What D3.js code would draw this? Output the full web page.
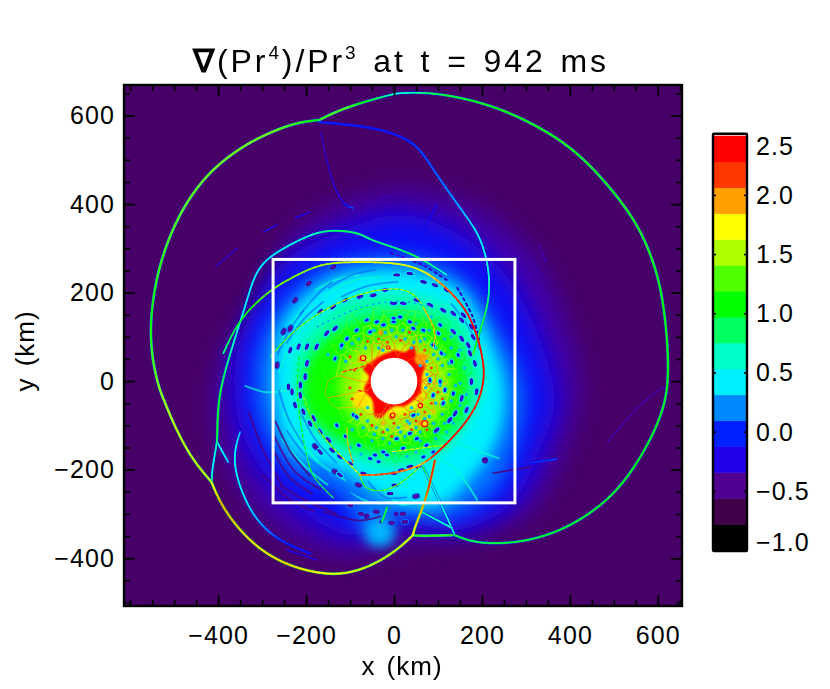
<!DOCTYPE html>
<html><head><meta charset="utf-8">
<script src="https://cdn.jsdelivr.net/npm/d3@7/dist/d3.min.js"></script>
<style>html,body{margin:0;padding:0;background:#fff}svg{display:block}text{font-family:"Liberation Sans",Arial,sans-serif;fill:#000}</style>
</head><body><svg id="c" width="830" height="689"></svg>
<script>
// ---------- tick labels and colour bar ----------
const xTicks=[-400,-200,0,200,400,600];
const yTicks=[-400,-200,0,200,400,600];
const barTicks=[-1,-0.5,0,0.5,1,1.5,2,2.5];
const barColors=["#000000","#40004a","#500090","#2000e8","#0020ff","#0088ff","#00f0ff","#00ffc8","#00ff60","#00ff00","#50ff00","#b0ff00","#ffff00","#ffa000","#ff3800","#ff0000"];
const backgroundValue=-0.58;
const boxHalf=275, holeRadius=53;

// ---------- smooth field: level polygons, km ----------
const fieldLevels=[
 {v:-0.38,b:13,p:[[-281,183],[-236,319],[-123,398],[14,432],[172,398],[309,296],[388,138],[422,-20],[388,-156],[309,-292],[195,-348],[59,-359],[-123,-393],[-259,-337],[-361,-224],[-406,-88],[-384,70]]},
 {v:-0.12,b:11,p:[[-350,93],[-259,262],[-123,337],[14,375],[150,330],[263,228],[331,93],[365,-43],[331,-156],[263,-280],[138,-337],[14,-314],[-100,-348],[-236,-269],[-327,-156],[-361,-43]]},
 {v:0.15,b:9,p:[[-281,138],[-168,251],[14,285],[150,240],[241,115],[297,-20],[275,-156],[218,-258],[104,-314],[14,-303],[-54,-348],[-123,-258],[-236,-201],[-304,-88],[-316,25]]},
 {v:0.42,b:7,p:[[-247,138],[-145,228],[14,251],[150,206],[218,93],[252,-20],[234,-133],[172,-224],[104,-280],[-9,-269],[-123,-201],[-236,-156],[-270,-43],[-270,47]]},
 {v:0.72,b:6,p:[[-205,93],[-118,175],[14,196],[127,165],[184,81],[202,2],[172,-88],[104,-167],[14,-196],[-100,-170],[-185,-105],[-225,-20]]},
 {v:1.1,b:6,p:[[-191,47],[-100,130],[14,150],[116,120],[161,25],[150,-77],[70,-150],[-32,-160],[-134,-125],[-202,-54]]},
 {v:1.45,b:6,p:[[-100,59],[2,104],[93,70],[127,-9],[93,-88],[2,-122],[-89,-88],[-123,-20]]},
 {v:1.75,b:4,p:[[-70,15],[-40,60],[10,75],[55,60],[75,10],[65,-45],[20,-75],[-45,-75],[-78,-40]]},
 {v:2.45,b:1,p:[[0,70],[25,66],[45,80],[52,58],[70,42],[64,10],[60,-25],[46,-42],[25,-56],[0,-58],[-15,-68],[-28,-82],[-42,-82],[-50,-42],[-68,-20],[-57,10],[-70,28],[-48,46],[-30,58],[-10,66]]}
];
// warm blobs and rimmed cells near the core [x,y,r,v]
const warmBlobs=[[-77,-43,18,1.8],[62,50,15,1.95],[-30,110,6,2.0],[-75,50,7,2.0],[60,-95,7,2.0],[-5,-80,6,2.3],[60,-40,7,1.9],[-25,-95,5,2.0],[30,-105,5,1.9],[90,-70,5,1.9],[88,0,5,1.8]];
const ringCells=[[-70,52,6],[-13,76,4],[-3,-77,5],[70,-96,7],[60,-55,5]];
// ---------- fine curves: x, y (km), value ----------
const shockTop=[[-170,590,1.25],[-111,619,1.3],[-2,649,0.7],[14,651,0.55],[89,653,0.9],[202,630,1.1],[293,594,1.15],[393,538,1.15],[468,466,1.15],[536,382,1.15],[574,314,1.15],[608,217,1.1],[622,93,1.1],[624,25,1.1],[620,-43,1.05],[588,-127,1.05],[529,-224,1.05],[468,-285,1.0],[393,-332,1.0],[316,-359,0.95],[241,-368,0.95],[179,-364,0.9],[138,-348,1.0]];
const shockLeft=[[-170,590,1.0],[-220,585,1.2],[-288,560,1.4],[-350,527,1.4],[-411,481,1.4],[-463,420,1.35],[-508,337,1.3],[-538,246,1.2],[-552,160,1.1],[-554,93,1.15],[-546,30,1.3],[-533,-20,1.45],[-520,-50,1.5],[-502,-95,1.6],[-463,-172,1.6],[-415,-228,1.6]];
const shockLow=[[-415,-228,1.6],[-395,-276,1.95],[-356,-332,1.85],[-304,-382,1.8],[-243,-416,1.85],[-168,-436,1.75],[-107,-436,1.65],[-48,-416,1.6],[7,-382,1.6],[43,-348,1.75]];
const link1=[[43,-348,1.75],[48,-328,1.8],[66,-285,1.9],[82,-231,2.2],[93,-179,2.3]];
const link2=[[43,-348,1.2],[59,-350,1.2],[134,-348,1.2]];
const link3=[[138,-348,0.6],[132,-332,0.55],[89,-240,0.55],[66,-194,0.9]];
const link4=[[64,-296,0.7],[132,-332,0.55]];
const blueArc=[[-170,585,0.0],[-61,576,-0.05],[14,556,-0.05],[59,527,0.05],[89,477,0.1],[157,382,0.3],[195,330,0.45],[213,269,0.5],[218,217,0.65],[213,167,0.85],[191,99,1.0],[180,60,1.2]];
const midArc=[[-415,-228,0.8],[-413,-194,0.5],[-402,-138,0.7],[-402,-118,1.0],[-400,-43,1.0],[-384,25,0.85],[-356,115,0.6],[-334,183,0.45],[-311,262,0.45],[-252,301,0.5],[-175,339,0.7],[-123,341,0.9],[-77,334,0.85],[-54,319,0.8],[-2,303,0.8],[59,280,0.9],[120,240,0.6]];
const midBranch=[[-402,-138,0.6],[-377,-183,0.35]];
const fourthArc=[[-350,-115,0.3],[-368,-172,0.5],[-350,-246,0.5],[-311,-321,0.3],[-252,-366,0.0],[-191,-389,-0.1]];
const faintA=[[-243,-382,-0.2],[-175,-404,-0.25]];
const faintB=[[-166,563,-0.3],[-157,515,-0.32],[-152,495,-0.3],[-138,443,-0.25],[-116,398,-0.2],[-93,391,0.1]];
const faintC=[[-297,337,-0.15],[-266,353,-0.2]];
const faintD=[[-225,368,-0.2],[-191,382,-0.25]];
const faintE=[[-406,258,-0.35],[-356,301,-0.3]];
const faintF=[[620,-10,-0.42],[565,-43,-0.38],[486,-138,-0.38]];
const faintG=[[97,400,-0.2],[55,310,-0.15]];
const faintH=[[330,308,-0.38],[345,270,-0.36]];
const faintI=[[310,270,-0.38],[332,240,-0.36]];
const faintJ=[[-60,400,-0.38],[-10,420,-0.38]];
const streakBlue=[[309,-185,0.0],[370,-176,0.05]];
const streakDark=[[225,-208,-0.5],[309,-194,-0.5]];
const shockA=[[-388,63,0.8],[-350,145,1.0],[-281,206,1.4],[-243,228,1.4],[-168,267,1.5],[-93,269,1.7],[-16,269,1.7],[59,258,1.65],[120,212,2.1],[166,160,2.4],[188,108,2.4],[202,54,2.45],[207,2,2.45],[188,-59,2.3],[150,-111,2.45],[98,-163,2.45],[59,-194,1.9],[-16,-212,2.2],[-77,-212,2.1]];
const ringB=[[-281,55,1.4],[-236,108,1.4],[-168,157,1.55],[-85,198,1.6],[14,215,1.6],[59,190,1.55],[89,122,1.5],[98,86,1.6]];
const ringB2=[[-175,123,0.6],[-85,168,0.65],[14,187,0.6],[90,165,0.7]];
const ringB3=[[-130,55,1.3],[-85,78,1.4],[-24,93,1.5]];
const ringL=[[-207,-32,1.5],[-184,-99,1.4],[-145,-145,1.5],[-77,-212,1.8]];
const ringM=[[-215,60,1.0],[-225,-30,1.1],[-197,-183,1.05],[-184,-219,1.1],[-138,-264,1.05]];
const ringN=[[-77,-212,1.5],[-70,-240,1.25],[-39,-251,1.35],[7,-240,1.4],[59,-194,1.5]];
const lineP=[[-107,-104,1.9],[-107,-140,1.9],[-93,-185,2.1]];
const lineQ=[[66,167,1.9],[98,115,2.0],[89,77,2.0]];
const lineR=[[-9,-160,1.7],[66,-151,1.7],[111,-145,1.6]];
const lineS=[[-120,20,2.3],[-80,30,2.3],[-55,38,2.35]];
const lineT=[[-85,-20,2.3],[-60,-25,2.3]];
const lobeStrand=[[-16,-286,1.0],[-27,-318,0.9]];
const outerCurves=[faintA,faintB,faintC,faintD,faintE,faintF,faintG,faintH,faintI,faintJ,streakDark,streakBlue,fourthArc,midBranch,midArc,blueArc,link2,link3,link4,shockTop,shockLeft,shockLow,link1,lobeStrand];
const innerCurves=[ringM,ringL,ringN,ringB,ringB2,ringB3,lineP,lineQ,lineR,lineS,lineT];

// ---------- bright streaks and dark bands inside the blue region ----------
const brightStreaks=[
 [[-250,60],[-210,100],[-170,150]],[[-230,40],[-190,110],[-130,170]],[[-180,205],[-130,230],[-80,240]],[[-160,190],[-100,225],[-30,235]],[[-255,90],[-225,140],[-190,180]],[[-262,20],[-240,70],[-205,125]],
 [[-340,-10],[-290,-25],[-240,-20]],[[-255,-130],[-205,-190],[-150,-235]],[[-235,-100],[-180,-175],[-110,-225]],[[-100,-250],[-50,-275],[10,-270]],[[-30,-240],[20,-280],[60,-260]],[[-250,-70],[-215,-130],[-170,-185]],
 [[100,-120],[170,-150],[240,-175]],[[60,-150],[140,-200],[190,-270]]];
const blueStreaks=[
 [[-265,60],[-235,120],[-205,160]],[[-245,85],[-205,140],[-160,180]],[[-150,210],[-95,240],[-40,252]],[[-120,190],[-60,215],[10,225]],[[-215,150],[-175,195],[-140,225]],
 [[-262,-20],[-240,-85],[-205,-145]],[[-245,-110],[-200,-170],[-150,-210]],[[-215,-65],[-180,-130],[-130,-185]],[[-170,-200],[-120,-240],[-70,-262]],[[-60,-225],[-20,-262],[30,-262]],
 [[130,175],[165,130],[195,70]]];
const darkArcs=[
 [[-272,-160],[-240,-215],[-185,-255]],[[-272,-125],[-225,-205],[-165,-245]],[[-260,-235],[-200,-270],[-130,-300]],[[-160,-295],[-80,-315],[-30,-305]],[[-330,-70],[-300,-150],[-255,-235]],[[-270,-90],[-235,-160],[-190,-215]],[[-300,-210],[-240,-265],[-180,-295]]];
const darkRings=[
 [[143,212],[179,145],[195,86]],
 [[-9,290],[66,262],[125,225]]
];
// dark cells [x,y]
const cellsOuter=[[-194,221],[-225,183],[-251,112],[-236,119],[-266,36],[-138,258],[-179,-148],[-134,-205],[-81,-235],[-40,-295],[20,-300],[50,-260],[-100,-280],[-75,-300],[-5,-320],[25,-318]];
const cellsMid=[[-168,157],[-138,168],[-111,183],[-77,191],[-47,194],[-20,206],[-134,119],[-198,78],[-217,78],[-236,70],[6,240],[36,243],[67,224],[93,217],[120,206],[-1,176],[21,176],[52,183],[82,172],[112,160],[135,153],[154,138],[135,112],[154,96],[169,81],[173,63],[184,40],[158,149],[180,100],[176,123],[-232,-24],[-225,-54],[-206,-69],[-191,-96],[-168,-160],[-123,-212],[-123,-171],[-100,-186],[-240,-13],[-213,-9],[-213,-32],[-183,-84],[-168,-114],[-149,-133],[-141,-156],[-69,-209],[176,-1],[188,-24],[165,-65],[139,-73],[127,-88],[97,-111],[154,-39],[55,-193],[36,-193],[17,-201],[-1,-208],[2,-235],[-9,-254],[-202,10],[-198,40],[-176,78],[-153,108]];
const cellsInner=[[-62,138],[-39,134],[-85,115],[-107,96],[-119,81],[-134,51],[-54,111],[-24,127],[-1,134],[14,145],[-1,142],[44,119],[67,115],[36,134],[105,127],[89,81],[108,63],[131,44],[146,59],[101,108],[-54,-175],[-35,-182],[-16,-167],[-92,-77],[-85,-81],[-43,-167],[-24,-160],[135,-28],[105,-1],[82,2],[116,-20],[89,-32],[112,-50],[44,-77],[36,-118],[6,-130],[52,-130],[74,-145],[21,-152],[89,-160],[67,-171],[-130,-100],[-110,-125],[-80,-145]];
const speckCyan=[[-150,60],[-120,75],[-110,45],[-95,85],[-80,95],[-65,75],[-45,115],[-25,70],[5,100],[25,95],[45,88],[70,95],[90,60],[110,35],[125,15],[105,-10],[75,15],[72,-15],[95,-50],[80,-80],[55,-75],[35,-95],[10,-105],[-15,-110],[-40,-105],[-60,-90],[-85,-85],[115,-95],[60,-115],[25,-125],[-10,-140],[-50,-135],[-95,-110],[140,-10],[125,40],[40,-60],[-35,75],[-60,-60],
 [60,35],[75,45],[100,50],[115,60],[130,75],[95,75],[60,90],[80,115],[115,95],[40,75],[20,115],[-5,115],[-20,110],[50,130],[85,145],[130,100],[150,70],[160,30],[150,-5],[165,-30],[150,-55],[130,-45],[110,-75],[90,-95],[70,-85],[50,-105],[30,-90],[15,-115],[0,-160],[30,-170],[50,-160],[-25,-130],[-45,-120],[-70,-105],[-75,-165],[-100,-150],[60,-135],[95,-130],[120,-115],[135,-95],[140,-70]];
const speckWarm=[[-35,95],[-15,88],[15,92],[35,110],[70,70],[85,30],[80,-5],[60,-25],[100,-25],[85,-50],[70,-70],[50,-90],[25,-75],[0,-95],[-25,-115],[-50,-100],[-75,-75],[-95,-40],[-100,-15],[-90,25],[-100,55],[-60,90],[110,-40],[75,-110],[40,-110],[-5,-125]];
const spotDark=[[207,-179,7],[-62,-305,6],[5,-300,5],[-30,-318,3]];
const lobeGlow=[[-32,-341,34,0.3]];

// ---------- scales ----------
const W=830,H=689,L=124,R=682,T=85,B=606,CL=713,CR=747,CT=135.7,CB=550;
const x=d3.scaleLinear().domain([-614,655]).range([L,R]);
const y=d3.scaleLinear().domain([-508,669]).range([B,T]);
const bandCentres=barColors.map((_,i)=>-1+3.5*(i+0.5)/16);
const color=d3.scaleLinear().domain(bandCentres).range(barColors).clamp(true);
const barY=d3.scaleLinear().domain([-1,2.5]).range([CB,CT]);
const wallValue=d3.scaleLinear().domain([55,105,150,195]).range([2.3,1.95,1.2,0.55]).clamp(true);
const svg=d3.select("#c");
const defs=svg.append("defs");
defs.append("clipPath").attr("id","plot").append("rect").attr("x",L).attr("y",T).attr("width",R-L).attr("height",B-T);
[1,4,6,7,9,11,13].forEach(b=>defs.append("filter").attr("id","b"+b).attr("x","-30%").attr("y","-30%").attr("width","160%").attr("height","160%").append("feGaussianBlur").attr("stdDeviation",b));
defs.append("filter").attr("id","soft").append("feGaussianBlur").attr("stdDeviation",0.6);
defs.append("filter").attr("id","soft2").append("feGaussianBlur").attr("stdDeviation",1.2);

const g=svg.append("g").attr("clip-path","url(#plot)");
g.append("rect").attr("x",L).attr("y",T).attr("width",R-L).attr("height",B-T).attr("fill",color(backgroundValue));
const closed=d3.line().x(d=>x(d[0])).y(d=>y(d[1])).curve(d3.curveCatmullRomClosed);
const open=d3.line().x(d=>x(d[0])).y(d=>y(d[1])).curve(d3.curveCatmullRom);
const smooth=d3.line().x(d=>x(d[0])).y(d=>y(d[1])).curve(d3.curveBasis);
fieldLevels.forEach(l=>g.append("path").attr("d",closed(l.p)).attr("fill",color(l.v)).attr("filter",`url(#b${l.b})`));
g.selectAll("circle.l").data(lobeGlow).join("circle").attr("class","l").attr("cx",d=>x(d[0])).attr("cy",d=>y(d[1])).attr("r",d=>x(d[2])-x(0)).attr("fill",d=>color(d[3])).attr("filter","url(#b6)");

const blobs=g.append("g").attr("filter","url(#soft2)");
blobs.selectAll("circle.w").data(warmBlobs).join("circle").attr("cx",d=>x(d[0])).attr("cy",d=>y(d[1])).attr("r",d=>x(d[2])-x(0)).attr("fill",d=>color(d[3]));

const bands=g.append("g").attr("filter","url(#soft)");
bands.selectAll("path.s").data(brightStreaks).join("path").attr("class","s").attr("d",open).attr("fill","none").attr("stroke",color(0.6)).attr("stroke-width",2).attr("opacity",0.7);
bands.selectAll("path.b").data(blueStreaks).join("path").attr("class","b").attr("d",open).attr("fill","none").attr("stroke",color(0.12)).attr("stroke-width",1.8).attr("opacity",0.6);
bands.selectAll("path.d").data(darkArcs).join("path").attr("class","d").attr("d",open).attr("fill","none").attr("stroke",color(-0.5)).attr("stroke-width",1.8).attr("opacity",0.8);
bands.selectAll("path.r").data(darkRings).join("path").attr("class","r").attr("d",open).attr("fill","none").attr("stroke",color(-0.3)).attr("stroke-width",2).attr("stroke-dasharray","4 2");

// foam walls: the Voronoi net of the cell sites
const sites=[...cellsInner,...cellsMid,...speckCyan,...speckWarm];
const vor=d3.Delaunay.from(sites,d=>x(d[0]),d=>y(d[1])).voronoi([L,T,R,B]);
const walls=bands.append("g").attr("fill","none").attr("stroke-width",0.8).attr("opacity",0.65);
sites.forEach((d,i)=>{const r=Math.hypot(d[0],d[1]); if(r<165) walls.append("path").attr("d",vor.renderCell(i)).attr("stroke",color(wallValue(r)));});

function cellAngle(d){return Math.atan2(y(d[1])-y(0),x(d[0])-x(0))*180/Math.PI+90;}
function drawCells(data,rx,ry,v,halo){
 bands.selectAll(null).data(data).join("ellipse")
  .attr("transform",d=>`translate(${x(d[0])},${y(d[1])}) rotate(${cellAngle(d)})`)
  .attr("rx",rx).attr("ry",ry).attr("fill",color(v)).attr("stroke",color(halo)).attr("stroke-width",1);
}
function drawDots(data,r,v){
 bands.selectAll(null).data(data).join("circle").attr("cx",d=>x(d[0])).attr("cy",d=>y(d[1])).attr("r",r).attr("fill",color(v));
}
drawDots(speckCyan,1.7,0.3);
drawDots(speckWarm,1.6,2.15);
drawCells(cellsOuter,3.8,2.6,-0.42,0.15);
drawCells(cellsMid,3.9,2.2,-0.32,0.45);
drawCells(cellsInner,2.7,2.0,-0.15,0.5);
bands.selectAll(null).data(spotDark).join("circle").attr("cx",d=>x(d[0])).attr("cy",d=>y(d[1])).attr("r",d=>x(d[2])-x(0)).attr("fill",color(-0.4));
bands.selectAll(null).data(ringCells).join("circle").attr("cx",d=>x(d[0])).attr("cy",d=>y(d[1])).attr("r",d=>x(d[2])-x(0)).attr("fill",color(1.8)).attr("stroke",color(2.45)).attr("stroke-width",1.2);

// fine curves, coloured along their length
const curves=g.append("g");
function drawCurve(pts,sw,dip){
  const hidden=svg.append("path").attr("d",(pts.length>2?smooth:open)(pts)).attr("fill","none");
  const node=hidden.node(),len=node.getTotalLength();
  const cum=[0];for(let i=1;i<pts.length;i++){cum.push(cum[i-1]+Math.hypot(x(pts[i][0])-x(pts[i-1][0]),y(pts[i][1])-y(pts[i-1][1])));}
  const val=d3.scaleLinear().domain(cum.map(c=>c/cum[cum.length-1]*len)).range(pts.map(p=>p[2]));
  const under=curves.append("g"),over=curves.append("g");
  let p0=node.getPointAtLength(0),k=0;
  for(let s=2;s<=len+1.9;s+=2,k++){
    const q=Math.min(s,len),p1=node.getPointAtLength(q);
    const v=val(q)+(dip&&k%3===0?-dip:0);
    if(v>-0.15&&!dip) under.append("line").attr("x1",p0.x).attr("y1",p0.y).attr("x2",p1.x).attr("y2",p1.y).attr("stroke",color(Math.max(v-0.8,-0.25))).attr("stroke-width",sw+1.1).attr("opacity",0.5).attr("stroke-linecap","round");
    over.append("line").attr("x1",p0.x).attr("y1",p0.y).attr("x2",p1.x).attr("y2",p1.y).attr("stroke",color(v)).attr("stroke-width",sw).attr("stroke-linecap","round");
    p0=p1;
  }
  hidden.remove();
}
outerCurves.forEach(p=>drawCurve(p,d3.max(p,d=>d[2])>0.3?1.7:1.3,0));
innerCurves.forEach(p=>drawCurve(p,1.05,0.45));
drawCurve(shockA,1.7,0.12);
// white hole and box
g.append("circle").attr("cx",x(0)).attr("cy",y(0)).attr("r",x(holeRadius)-x(0)).attr("fill","#fff");
g.append("rect").attr("x",x(-boxHalf)).attr("y",y(boxHalf)).attr("width",x(boxHalf)-x(-boxHalf)).attr("height",y(-boxHalf)-y(boxHalf)).attr("fill","none").attr("stroke","#fff").attr("stroke-width",3);

// ---------- axes ----------
function minors(s){const [a,b]=s.domain();return d3.range(Math.ceil(a/50)*50,b,50);}
function axis(gen,scale,ticks,tx,label,maj,min){
  const gg=svg.append("g").attr("transform",tx);
  gg.call(gen(scale).tickValues(minors(scale)).tickSize(-min).tickFormat(""));
  gg.call(g2=>g2.selectAll(".domain").remove());
  const m=svg.append("g").attr("transform",tx);
  m.call(gen(scale).tickValues(ticks).tickSize(-maj).tickPadding(label?label:0).tickFormat(label?d3.format("d"):""));
  m.select(".domain").remove();
  svg.selectAll("g.tick line").attr("stroke","#000").attr("stroke-width",1.6);
  m.selectAll("text").attr("font-size",25).style("letter-spacing","1.1px").attr("fill","#000");
}
axis(d3.axisBottom,x,xTicks,`translate(0,${B})`,20,11,6);
axis(d3.axisLeft,y,yTicks,`translate(${L},0)`,9,11,6);
axis(d3.axisTop,x,xTicks,`translate(0,${T})`,0,11,6);
axis(d3.axisRight,y,yTicks,`translate(${R},0)`,0,11,6);
svg.append("rect").attr("x",L).attr("y",T).attr("width",R-L).attr("height",B-T).attr("fill","none").attr("stroke","#000").attr("stroke-width",2.4);

// ---------- labels ----------
const title=svg.append("text").attr("x",401).attr("y",72).attr("text-anchor","middle").attr("font-size",32).style("letter-spacing","2.9px").attr("xml:space","preserve");
title.append("tspan").text("∇").attr("font-weight","bold");
title.append("tspan").text("(Pr");
title.append("tspan").text("4").attr("font-size",19).attr("dy",-13);
title.append("tspan").text(")/Pr").attr("dy",13);
title.append("tspan").text("3").attr("font-size",19).attr("dy",-13);
title.append("tspan").text(" at t = 942 ms").attr("dy",13).style("word-spacing","3px");
svg.append("text").attr("x",402).attr("y",675).attr("text-anchor","middle").attr("font-size",26).style("letter-spacing","1px").style("word-spacing","3px").text("x (km)");
svg.append("text").attr("transform","translate(34,351) rotate(-90)").attr("text-anchor","middle").attr("font-size",26).style("letter-spacing","1px").style("word-spacing","3px").text("y (km)");

// ---------- colour bar ----------
const bar=svg.append("g");
const bandEdges=d3.range(0,17).map(i=>-1+3.5*i/16);
bar.selectAll("rect").data(barColors).join("rect").attr("x",CL).attr("width",CR-CL).attr("y",(d,i)=>barY(bandEdges[i+1])).attr("height",(d,i)=>barY(bandEdges[i])-barY(bandEdges[i+1])+0.5).attr("fill",d=>d);
const bl=svg.append("g").attr("transform",`translate(${CL},0)`).call(d3.axisLeft(barY).tickValues(barTicks.slice(1,-1)).tickSize(-3).tickFormat(""));
bl.select(".domain").remove();
const br=svg.append("g").attr("transform",`translate(${CR},0)`).call(d3.axisRight(barY).tickValues(barTicks.slice(1,-1)).tickSize(-3).tickFormat(""));
br.select(".domain").remove();
svg.selectAll("g.tick line").attr("stroke","#000").attr("stroke-width",1.6);
svg.append("rect").attr("x",CL).attr("y",CT-2).attr("width",CR-CL).attr("height",CB-CT+3).attr("fill","none").attr("stroke","#000").attr("stroke-width",2.4).attr("rx",1);
svg.selectAll("text.bl").data(barTicks).join("text").attr("class","bl").attr("font-size",25).style("letter-spacing","1.1px")
  .attr("x",d=>756).attr("y",d=>barY(d)+(d===2.5?19:d===-1?1:9)).text(d=>d3.format(".1f")(d));
</script></body></html>
